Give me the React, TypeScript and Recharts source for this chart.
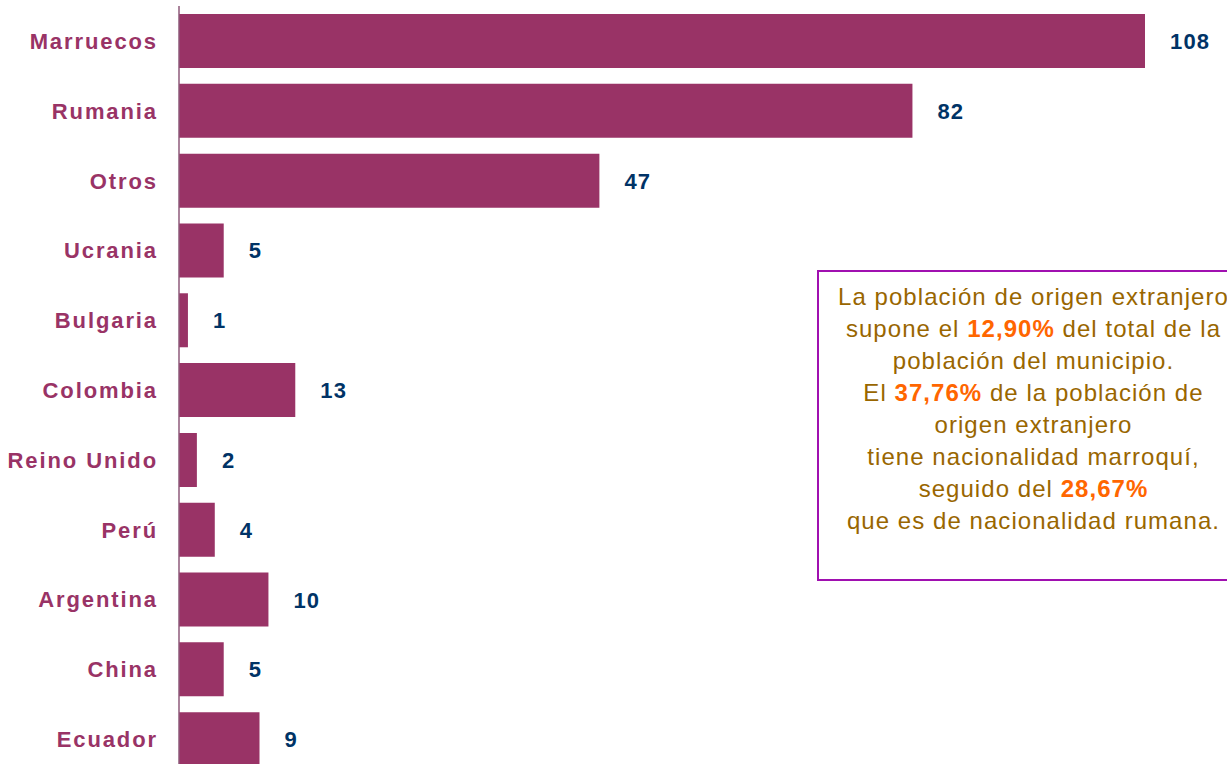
import React from "react";
import { BarChart, Bar, XAxis, YAxis, LabelList } from "recharts";

const categories = [
  "Marruecos",
  "Rumania",
  "Otros",
  "Ucrania",
  "Bulgaria",
  "Colombia",
  "Reino Unido",
  "Perú",
  "Argentina",
  "China",
  "Ecuador",
];
const values = [108, 82, 47, 5, 1, 13, 2, 4, 10, 5, 9];

const data = categories.map((name, i) => ({ name, value: values[i] }));

const BAR_COLOR = "#993366";
const LABEL_COLOR = "#993366";
const VALUE_COLOR = "#003366";
const FONT = "'Liberation Sans', Arial, sans-serif";

const CategoryTick = (props: any) => {
  const { x, y, payload } = props;
  return (
    <text
      x={x}
      y={y}
      dy={8}
      textAnchor="end"
      fill={LABEL_COLOR}
      fontFamily={FONT}
      fontWeight="bold"
      fontSize={22}
      letterSpacing={1.9}
    >
      {payload.value}
    </text>
  );
};

const ValueLabel = (props: any) => {
  const { x, y, width, height, value } = props;
  return (
    <text
      x={x + width + 25}
      y={y + height / 2}
      dy={8}
      textAnchor="start"
      fill={VALUE_COLOR}
      fontFamily={FONT}
      fontWeight="bold"
      fontSize={22}
      letterSpacing={1.2}
    >
      {value}
    </text>
  );
};

const lineStyle: React.CSSProperties = { whiteSpace: "nowrap" };
const hi: React.CSSProperties = { color: "#FF6600", fontWeight: "bold" };

export default function App() {
  return (
    <div
      style={{
        position: "absolute",
        left: 0,
        top: 0,
        width: 1227,
        height: 764,
        overflow: "hidden",
        background: "#ffffff",
      }}
    >
      <BarChart
        width={1227}
        height={774}
        data={data}
        layout="vertical"
        margin={{ top: 6, right: 82, bottom: 0, left: 0 }}
        barCategoryGap={8}
      >
        <XAxis type="number" domain={[0, 108]} hide />
        <YAxis
          type="category"
          dataKey="name"
          width={179}
          axisLine={{ stroke: "#8e5a7a", strokeWidth: 1.5 }}
          tickLine={false}
          tickSize={0}
          tickMargin={21}
          tick={<CategoryTick />}
          interval={0}
        />
        <Bar dataKey="value" fill={BAR_COLOR} isAnimationActive={false}>
          <LabelList dataKey="value" content={<ValueLabel />} />
        </Bar>
      </BarChart>
      <div
        style={{
          position: "absolute",
          left: 817,
          top: 270,
          width: 433,
          height: 311,
          border: "2px solid #A010B0",
          boxSizing: "border-box",
          fontFamily: FONT,
          fontSize: 24,
          letterSpacing: 1.05,
          lineHeight: "32px",
          color: "#996600",
          textAlign: "center",
          paddingTop: 9,
        }}
      >
        <div style={lineStyle}>La población de origen extranjero</div>
        <div style={lineStyle}>
          supone el <span style={hi}>12,90%</span> del total de la
        </div>
        <div style={lineStyle}>población del municipio.</div>
        <div style={lineStyle}>
          El <span style={hi}>37,76%</span> de la población de
        </div>
        <div style={lineStyle}>origen extranjero</div>
        <div style={lineStyle}>tiene nacionalidad marroquí,</div>
        <div style={lineStyle}>
          seguido del <span style={hi}>28,67%</span>
        </div>
        <div style={lineStyle}>que es de nacionalidad rumana.</div>
      </div>
    </div>
  );
}
